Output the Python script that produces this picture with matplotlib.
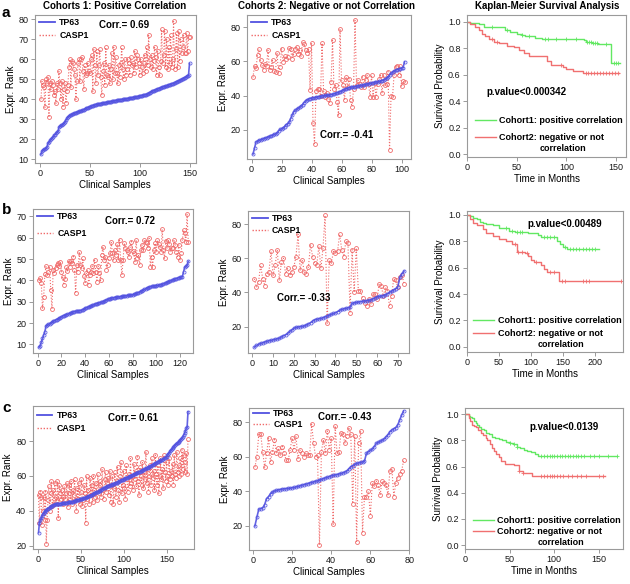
import numpy as np
import matplotlib
matplotlib.use("Agg")
import matplotlib.pyplot as plt
from matplotlib.lines import Line2D

plt.rcParams['font.family'] = ['Liberation Sans', 'DejaVu Sans']

# ---------------- data ----------------
a1_tp63 = [12.5, 14.0, 14.8, 15.0, 15.2, 15.6, 16.3, 18.0, 18.6, 19.5,
           20.0, 20.6, 21.2, 22.0, 22.4, 23.0, 23.5, 24.0, 26.0, 26.6,
           27.0, 27.2, 27.6, 28.1, 28.8, 29.6, 30.5, 31.3, 31.6, 32.0,
           32.2, 32.5, 32.8, 33.0, 33.2, 33.4, 33.6, 33.8, 34.0, 34.1,
           34.3, 34.5, 34.7, 34.9, 35.2, 35.5, 35.7, 35.9, 36.1, 36.3,
           36.5, 36.7, 36.9, 37.1, 37.2, 37.4, 37.5, 37.6, 37.7, 37.8,
           37.9, 38.0, 38.1, 38.2, 38.3, 38.4, 38.5, 38.6, 38.7, 38.8,
           38.9, 39.0, 39.1, 39.2, 39.3, 39.4, 39.5, 39.6, 39.7, 39.8,
           39.9, 39.9, 40.0, 40.0, 40.1, 40.2, 40.3, 40.4, 40.5, 40.6,
           40.7, 40.8, 40.9, 41.0, 41.1, 41.2, 41.3, 41.4, 41.5, 41.7,
           41.8, 41.9, 42.0, 42.2, 42.3, 42.4, 42.5, 42.8, 43.1, 43.4,
           43.7, 44.0, 44.2, 44.4, 44.6, 44.8, 45.0, 45.2, 45.4, 45.6,
           45.8, 46.0, 46.2, 46.4, 46.5, 46.6, 46.7, 47.0, 47.2, 47.4,
           47.6, 47.8, 47.9, 48.0, 48.3, 48.6, 48.9, 49.1, 49.3, 49.5,
           49.7, 50.0, 50.3, 50.6, 50.9, 51.2, 51.5, 51.9, 52.2, 58.0]
a1_casp1 = [40, 49, 47, 46, 36, 50, 48, 51, 31, 48,
            45, 49, 47, 42, 44, 38, 48, 45, 54, 48,
            40, 49, 36, 45, 48, 38, 44, 47, 56, 60,
            46, 59, 58, 55, 52, 40, 49, 58, 60, 49,
            60, 61, 54, 45, 57, 52, 53, 58, 54, 53,
            60, 62, 44, 65, 57, 48, 64, 52, 57, 65,
            51, 42, 54, 58, 47, 66, 52, 51, 57, 48,
            55, 63, 50, 66, 53, 61, 53, 48, 57, 51,
            58, 66, 55, 50, 60, 52, 55, 60, 58, 52,
            61, 57, 58, 53, 64, 56, 62, 60, 58, 52,
            60, 56, 53, 58, 62, 54, 66, 57, 72, 60,
            56, 62, 55, 59, 66, 61, 52, 64, 56, 52,
            59, 75, 58, 62, 74, 56, 70, 55, 66, 58,
            72, 56, 60, 79, 55, 65, 73, 56, 74, 59,
            70, 63, 66, 72, 63, 63, 73, 64, 71, 71]

a2_tp63 = [6.0, 9.4, 13.0, 13.5, 14.0, 14.3, 14.6, 15.0, 15.3, 15.6,
           16.0, 16.3, 16.6, 17.0, 17.4, 17.8, 18.3, 19.5, 20.3, 20.8,
           21.2, 22.0, 23.0, 23.6, 24.5, 26.5, 28.5, 30.5, 31.5, 32.0,
           32.6, 33.3, 34.0, 34.8, 36.0, 37.0, 37.6, 38.0, 38.3, 38.5,
           38.7, 38.9, 39.1, 39.3, 39.4, 39.6, 39.8, 40.0, 40.1, 40.2,
           40.3, 40.4, 40.6, 40.8, 41.0, 41.3, 41.6, 41.9, 42.3, 42.7,
           43.2, 43.6, 44.0, 44.3, 44.6, 44.8, 45.0, 45.2, 45.3, 45.4,
           45.6, 45.8, 46.0, 46.2, 46.4, 46.6, 46.8, 47.0, 47.1, 47.3,
           47.5, 47.7, 47.9, 48.1, 48.3, 48.5, 48.8, 49.1, 49.6, 50.3,
           51.0, 52.0, 53.0, 53.8, 54.3, 54.8, 55.2, 55.5, 55.8, 56.0,
           56.3, 59.8]
a2_casp1 = [50.6, 57.4, 56.0, 63.6, 67.0, 60.6, 57.8, 55.0, 58.7, 57.4,
            66.5, 55.0, 56.8, 60.6, 54.5, 54.0, 65.0, 53.3, 56.8, 67.4,
            59.7, 63.2, 61.6, 62.5, 68.0, 67.4, 61.6, 64.0, 67.4, 68.4,
            64.0, 66.5, 63.0, 71.0, 70.0, 66.8, 65.0, 67.0, 43.3, 70.7,
            24.0, 12.0, 43.0, 43.6, 44.0, 40.0, 70.7, 43.0, 39.4, 41.3,
            38.0, 35.5, 48.0, 72.3, 44.0, 46.0, 36.5, 28.7, 79.0, 49.0,
            46.0, 37.4, 51.0, 45.0, 50.0, 37.4, 33.6, 44.0, 83.9, 46.0,
            49.0, 47.0, 45.0, 51.0, 45.0, 49.0, 52.0, 47.0, 39.4, 52.0,
            39.4, 47.5, 39.4, 47.0, 50.0, 52.0, 41.3, 52.0, 46.0, 47.0,
            54.0, 8.4, 40.0, 39.4, 52.0, 56.8, 57.0, 52.0, 57.0, 45.6,
            48.5, 48.0]

b1_tp63 = [8.8, 9.5, 11.0, 12.8, 14.4, 16.0, 18.6, 19.0, 19.4, 19.8,
           20.1, 20.4, 20.8, 21.1, 21.4, 21.7, 22.0, 22.3, 22.6, 23.0,
           23.3, 23.5, 23.7, 24.0, 24.2, 24.4, 24.6, 24.8, 25.0, 25.3,
           25.4, 25.5, 25.6, 25.7, 25.8, 25.9, 26.0, 26.3, 26.6, 26.9,
           27.2, 27.4, 27.6, 27.8, 28.0, 28.3, 28.5, 28.8, 29.0, 29.2,
           29.4, 29.5, 29.7, 29.8, 30.0, 30.3, 30.6, 30.9, 31.1, 31.3,
           31.5, 31.7, 31.8, 31.9, 32.0, 32.1, 32.2, 32.3, 32.35, 32.4,
           32.5, 32.6, 32.7, 32.8, 32.9, 33.0, 33.05, 33.1, 33.2, 33.3,
           33.5, 33.7, 33.9, 34.1, 34.3, 34.6, 34.9, 35.2, 35.5, 35.8,
           36.1, 36.4, 36.7, 36.9, 37.0, 37.2, 37.3, 37.4, 37.5, 37.6,
           37.7, 37.8, 37.9, 38.0, 38.2, 38.4, 38.6, 38.8, 39.1, 39.4,
           39.6, 39.8, 40.0, 40.2, 40.5, 40.7, 40.9, 41.1, 41.3, 41.4,
           41.6, 41.8, 44.0, 46.2, 46.6, 47.2, 49.0]
b1_casp1 = [40.0, 41.0, 38.7, 27.0, 32.4, 43.0, 46.8, 42.6, 44.0, 46.5,
            35.5, 26.6, 45.0, 43.4, 46.0, 47.3, 48.4, 47.0, 48.8, 44.0,
            41.5, 37.9, 40.5, 46.2, 44.5, 49.3, 46.5, 49.3, 48.0, 51.2,
            45.0, 34.0, 47.3, 44.0, 53.5, 47.3, 45.7, 50.4, 42.0, 39.0,
            43.4, 45.0, 37.9, 42.6, 44.0, 46.8, 43.4, 49.6, 44.0, 39.4,
            46.8, 43.7, 40.0, 52.0, 55.9, 49.6, 51.0, 45.0, 47.3, 50.4,
            52.8, 57.8, 53.0, 49.6, 54.3, 52.0, 57.0, 49.6, 59.0, 49.6,
            42.6, 49.6, 57.5, 55.1, 54.3, 53.5, 51.0, 55.9, 58.2, 54.0,
            52.8, 48.8, 59.0, 50.4, 52.0, 47.3, 54.3, 56.7, 54.3, 59.0,
            58.2, 57.5, 55.0, 59.8, 46.5, 51.2, 46.5, 54.3, 57.5, 53.5,
            59.0, 57.0, 55.9, 53.5, 64.0, 54.3, 50.4, 58.7, 55.1, 59.0,
            57.0, 53.5, 55.1, 55.1, 59.0, 56.7, 53.5, 51.2, 56.7, 49.6,
            53.0, 59.0, 63.7, 62.2, 58.2, 71.0, 58.2]

b2_tp63 = [8.0, 9.0, 9.6, 10.2, 10.6, 11.0, 11.4, 11.8, 12.0, 12.3,
           12.6, 12.9, 13.2, 14.0, 14.7, 15.2, 16.0, 17.2, 18.0, 19.0,
           19.6, 19.8, 20.0, 20.2, 20.4, 21.0, 21.6, 22.3, 23.2, 24.0,
           24.3, 24.6, 24.8, 25.2, 25.7, 26.2, 26.7, 27.2, 27.7, 28.1,
           28.8, 29.5, 30.1, 30.4, 30.7, 31.0, 31.3, 33.6, 33.9, 34.2,
           34.4, 34.6, 34.8, 35.0, 35.2, 35.4, 35.6, 36.2, 36.8, 37.5,
           37.7, 37.9, 38.2, 38.5, 39.2, 40.0, 40.7, 41.4, 42.2, 43.4,
           49.0, 51.0, 52.5]
b2_casp1 = [48, 43, 46, 56, 48, 44, 51, 52, 64, 50,
            56, 65, 47, 58, 60, 51, 54, 50, 52, 55,
            61, 74, 53, 59, 52, 51, 55, 68, 61, 57,
            56, 67, 54, 66, 85, 22, 59, 57, 64, 63,
            64, 74, 65, 61, 70, 69, 28, 65, 40, 66,
            41, 41, 37, 34, 32, 36, 33, 39, 39, 36,
            45, 44, 38, 43, 41, 32, 38, 48, 47, 43,
            49, 50, 45]

c1_tp63 = [27.4, 33.0, 34.5, 35.6, 37.0, 38.0, 38.8, 39.3, 39.9, 40.4,
           40.8, 41.2, 41.6, 42.0, 42.3, 42.6, 42.9, 43.2, 43.5, 43.7,
           43.8, 43.9, 43.9, 44.0, 44.0, 44.1, 44.1, 44.2, 44.2, 44.3,
           44.4, 44.5, 44.6, 44.7, 44.8, 44.9, 45.0, 45.0, 45.1, 45.2,
           45.3, 45.5, 45.7, 45.8, 46.0, 46.1, 46.2, 46.4, 46.5, 46.7,
           46.9, 47.0, 47.2, 47.3, 47.5, 47.7, 47.9, 48.1, 48.3, 48.5,
           48.7, 49.0, 49.2, 49.5, 49.7, 50.0, 50.2, 50.5, 50.7, 51.0,
           51.3, 51.6, 51.9, 52.2, 52.5, 52.8, 53.0, 53.3, 53.5, 53.8,
           54.0, 54.2, 54.4, 54.6, 54.8, 55.0, 55.2, 55.3, 55.5, 55.7,
           55.9, 56.2, 56.5, 56.8, 57.0, 57.2, 57.5, 57.7, 57.9, 58.2,
           58.4, 58.6, 58.9, 59.1, 59.3, 59.5, 59.8, 60.0, 60.2, 60.5,
           60.7, 61.0, 61.2, 61.4, 61.6, 61.8, 62.1, 62.3, 62.5, 62.8,
           63.0, 63.3, 63.5, 63.8, 64.0, 64.3, 64.5, 64.8, 65.0, 65.3,
           65.6, 65.9, 66.2, 66.5, 66.8, 67.0, 67.3, 67.6, 67.8, 68.1,
           68.4, 68.6, 68.9, 69.2, 69.4, 69.7, 70.0, 70.3, 70.6, 71.0,
           71.8, 72.6, 73.4, 74.1, 74.8, 75.4, 76.0, 76.6, 77.2, 77.7,
           78.2, 78.6, 79.0, 79.5, 80.0, 80.6, 81.2, 81.9, 82.6, 83.4,
           84.5, 86.0, 87.3, 88.0, 96.8]
c1_casp1 = [49, 33, 51, 48, 32, 40, 48, 35, 51, 21,
            35, 46, 54, 40, 50, 57, 43, 52, 44, 56,
            48, 46, 57, 36, 55, 50, 47, 52, 44, 48,
            54, 47, 50, 56, 42, 50, 55, 47, 57, 44,
            52, 49, 58, 46, 40, 53, 47, 56, 44, 51,
            58, 43, 46, 55, 50, 33, 60, 47, 52, 44,
            59, 49, 55, 45, 60, 52, 48, 56, 46, 61,
            50, 55, 57, 48, 64, 52, 47, 58, 62, 51,
            56, 59, 49, 63, 45, 55, 60, 44, 53, 62,
            48, 57, 65, 52, 45, 60, 68, 50, 55, 63,
            53, 47, 66, 58, 51, 61, 54, 70, 56, 60,
            52, 67, 58, 63, 54, 71, 57, 49, 65, 60,
            55, 68, 53, 62, 58, 74, 56, 64, 51, 60,
            66, 55, 70, 59, 63, 52, 72, 61, 55, 66,
            50, 60, 70, 58, 64, 53, 72, 62, 57, 68,
            60, 55, 70, 58, 63, 60, 67, 55, 72, 61,
            59, 74, 62, 66, 60, 70, 61, 75, 64, 72,
            62, 68, 73, 61, 81]

c2_tp63 = [20.0, 25.0, 29.7, 30.1, 30.5, 32.4, 35.9, 37.0, 38.8, 39.6,
           40.2, 40.6, 40.9, 41.1, 41.4, 41.5, 41.6, 41.8, 41.9, 42.1,
           42.3, 42.6, 42.9, 43.2, 43.6, 43.9, 44.2, 44.5, 44.9, 45.2,
           45.5, 45.9, 46.2, 46.6, 47.0, 47.4, 47.8, 48.2, 48.6, 49.0,
           49.3, 49.6, 49.8, 50.1, 50.4, 50.8, 51.2, 51.8, 53.0, 54.3,
           55.0, 55.6, 56.2, 56.5, 56.8, 57.1, 57.6, 62.0, 63.0, 63.8,
           64.5, 66.0, 67.8, 68.4, 69.0, 69.6, 70.3, 71.5, 72.8, 74.6,
           75.5, 76.3, 77.0, 78.5, 81.4, 84.3, 86.6]
c2_casp1 = [54, 60, 73, 73, 63, 54, 62, 71, 57, 63,
            70, 62, 65, 61, 66, 62, 58, 58, 64, 71,
            64, 72, 59, 64, 62, 60, 62, 61, 61, 79,
            68, 60, 61, 9, 63, 70, 62, 75, 64, 71,
            21, 78, 62, 63, 74, 73, 68, 72, 77, 73,
            33, 72, 11, 68, 75, 16, 37, 37, 40, 26,
            45, 43, 46, 44, 38, 46, 45, 44, 38, 52,
            53, 37, 45, 48, 50, 52, 58]

# Kaplan-Meier step curves (time, survival) and censor times
a3_g_t = [0, 3, 12, 17, 38, 43, 50, 55, 58, 68, 75, 118, 120, 126, 132, 145, 154]
a3_g_s = [1.0, 0.99, 0.98, 0.96, 0.94, 0.92, 0.91, 0.90, 0.89, 0.88, 0.87, 0.86, 0.85, 0.84, 0.83, 0.69, 0.69]
a3_g_c = [25, 40, 55, 62, 78, 82, 90, 100, 110, 121, 123, 125, 127, 129, 131, 140, 148, 150, 152]
a3_r_t = [0, 3, 8, 12, 15, 18, 22, 27, 32, 40, 47, 52, 57, 62, 80, 85, 97, 100, 107, 117, 153]
a3_r_s = [1.0, 0.98, 0.96, 0.94, 0.91, 0.89, 0.87, 0.85, 0.84, 0.82, 0.81, 0.79, 0.76, 0.74, 0.70, 0.67, 0.66, 0.64, 0.63, 0.61, 0.61]
a3_r_c = [25, 30, 95, 120, 122, 125, 128, 131, 134, 137, 140, 143, 146, 149, 152]

b3_g_t = [0, 5, 10, 15, 20, 25, 30, 40, 50, 65, 75, 95, 110, 115, 140, 145, 150, 155, 205]
b3_g_s = [1.0, 0.99, 0.98, 0.97, 0.95, 0.94, 0.93, 0.92, 0.90, 0.88, 0.87, 0.86, 0.85, 0.83, 0.80, 0.78, 0.76, 0.74, 0.74]
b3_g_c = [60, 70, 78, 82, 86, 120, 125, 130, 135, 152, 160, 165, 170, 175, 180, 185, 190, 195, 200]
b3_r_t = [0, 5, 10, 15, 25, 30, 40, 50, 60, 70, 78, 90, 95, 100, 105, 115, 120, 125, 143, 240]
b3_r_s = [1.0, 0.97, 0.94, 0.92, 0.89, 0.86, 0.84, 0.82, 0.80, 0.78, 0.72, 0.71, 0.69, 0.66, 0.64, 0.62, 0.59, 0.57, 0.50, 0.50]
b3_r_c = [75, 80, 85, 93, 108, 130, 135, 148, 152, 180, 185, 190, 240]

c3_g_t = [0, 4, 6, 8, 10, 12, 14, 16, 18, 21, 24, 27, 30, 34, 38, 42, 46, 50, 54, 58, 62, 66, 70, 74, 78, 82, 170]
c3_g_s = [1.0, 0.99, 0.98, 0.97, 0.95, 0.93, 0.92, 0.90, 0.89, 0.88, 0.86, 0.85, 0.83, 0.82, 0.81, 0.80, 0.79, 0.78, 0.77, 0.75, 0.74, 0.73, 0.72, 0.71, 0.70, 0.68, 0.68]
c3_g_c = [50, 55, 58, 85, 88, 92, 95, 98, 100, 103, 106, 109, 112, 115, 118, 121, 124, 127, 130, 133, 140, 145, 150, 160, 170]
c3_r_t = [0, 4, 6, 8, 10, 12, 15, 18, 20, 23, 25, 28, 30, 32, 35, 38, 40, 45, 55, 60, 65, 75, 157]
c3_r_s = [1.0, 0.97, 0.95, 0.92, 0.91, 0.90, 0.88, 0.86, 0.84, 0.82, 0.80, 0.77, 0.74, 0.72, 0.70, 0.67, 0.64, 0.62, 0.61, 0.57, 0.55, 0.53, 0.53]
c3_r_c = [60, 65, 85, 88, 92, 95, 98, 100, 103, 106, 110, 115, 120, 125, 130, 135, 150, 155]

# ---------------- style ----------------
BLUE = '#5252e0'
RED = '#f06a6a'
KM_GREEN = '#62e862'
KM_RED = '#f07070'
SPINE = '#9a9a9a'
TICK_FS = 6.5
LAB_FS = 7
LEG_FS = 6.3

W, H = 630, 584
fig = plt.figure(figsize=(W / 100, H / 100), dpi=100)


def add_ax(l, t, r, b):
    ax = fig.add_axes([l / W, 1 - b / H, (r - l) / W, (b - t) / H])
    ax._pxw = r - l
    ax._pxh = b - t
    return ax


def style(ax):
    for s in ax.spines.values():
        s.set_color(SPINE)
        s.set_linewidth(0.8)
    ax.tick_params(direction='out', length=3, width=0.7, color=SPINE,
                   labelsize=TICK_FS, labelcolor='#1a1a1a', pad=1.5)


def scatter_panel(ax, tp, cs, xlim, ylim, xt, yt, corr, cpos, leg_top, leg_sp):
    x1 = np.arange(1, len(tp) + 1)
    x2 = np.arange(1, len(cs) + 1)
    ax.plot(x2, cs, color=RED, ls=':', lw=0.8, marker='o', ms=2.8,
            mfc='none', mec=RED, mew=0.6, zorder=2)
    ax.plot(x1, tp, color=BLUE, ls='-', lw=1.2, marker='o', ms=2.2,
            mfc='none', mec=BLUE, mew=0.6, alpha=0.9, zorder=3)
    ax.set_xlim(*xlim)
    ax.set_ylim(*ylim)
    ax.set_xticks(xt)
    ax.set_yticks(yt)
    style(ax)
    ax.set_xlabel('Clinical Samples', fontsize=LAB_FS, labelpad=1)
    ax.set_ylabel('Expr. Rank', fontsize=LAB_FS, labelpad=2)
    handles = [Line2D([], [], color=BLUE, lw=1.3),
               Line2D([], [], color=RED, lw=1.0, ls=(0, (1.0, 1.2)))]
    fpx = LEG_FS * 100 / 72
    anchor = (4 / ax._pxw, 1 - (leg_top - fpx / 2) / ax._pxh)
    sp = (leg_sp - fpx) / fpx
    ax.legend(handles, ['TP63', 'CASP1'], loc='upper left',
              bbox_to_anchor=anchor, frameon=False,
              prop={'weight': 'bold', 'size': LEG_FS}, handlelength=1.8,
              handletextpad=0.5, labelspacing=sp, borderaxespad=0.0,
              borderpad=0.0)
    ax.text(cpos[0], cpos[1], corr, transform=ax.transAxes, fontsize=7,
            fontweight='bold', ha='left', va='center')


def km_step_value(t, s, c):
    idx = np.searchsorted(np.asarray(t), np.asarray(c), side='right') - 1
    return np.asarray(s)[idx]


def km_panel(ax, gt, gs, gc, rt, rs, rc, xlim, ylim, xt, ptext, ppos,
             legpos, legsp):
    ax.step(gt, gs, where='post', color=KM_GREEN, lw=1.0)
    ax.plot(gc, km_step_value(gt, gs, gc), ls='none', marker='+', ms=3,
            mew=0.6, color=KM_GREEN)
    ax.step(rt, rs, where='post', color=KM_RED, lw=1.0)
    ax.plot(rc, km_step_value(rt, rs, rc), ls='none', marker='+', ms=3,
            mew=0.6, color=KM_RED)
    ax.set_xlim(*xlim)
    ax.set_ylim(*ylim)
    ax.set_xticks(xt)
    ax.set_yticks([0.0, 0.2, 0.4, 0.6, 0.8, 1.0])
    ax.set_yticklabels(['0.0', '0.2', '0.4', '0.6', '0.8', '1.0'])
    style(ax)
    ax.set_xlabel('Time in Months', fontsize=LAB_FS, labelpad=1)
    ax.set_ylabel('Surivival Probability', fontsize=LAB_FS, labelpad=2)
    ax.text(ppos[0], ppos[1], ptext, transform=ax.transAxes, fontsize=7,
            fontweight='bold', ha='left', va='center')
    handles = [Line2D([], [], color=KM_GREEN, lw=1.0),
               Line2D([], [], color=KM_RED, lw=1.0)]
    leg = ax.legend(handles, ['Cohort1: positive correlation',
                              'Cohort2: negative or not'],
                    loc='center left', bbox_to_anchor=legpos,
                    frameon=False, prop={'weight': 'bold', 'size': 6.5},
                    handlelength=2.3, handletextpad=0.4, labelspacing=legsp,
                    borderaxespad=0.0, borderpad=0.0)
    ax.annotate('correlation', xy=(0.383, 0), xycoords=leg.get_texts()[1],
                xytext=(0, -1.5), textcoords='offset points', fontsize=6.5,
                fontweight='bold', ha='left', va='top', zorder=10)


# ---------------- panels ----------------
ax = add_ax(35, 15, 195.5, 163)
scatter_panel(ax, a1_tp63, a1_casp1, (-5, 156), (8.2, 82.2), [0, 50, 100, 150],
              [10, 20, 30, 40, 50, 60, 70, 80], 'Corr.= 0.69', (0.40, 0.93),
              7.7, 12.3)
ax = add_ax(247, 15, 411, 159)
scatter_panel(ax, a2_tp63, a2_casp1, (-3, 106.3), (3.1, 87.0),
              [0, 20, 40, 60, 80, 100], [20, 40, 60, 80], 'Corr.= -0.41',
              (0.445, 0.167), 7.7, 12.3)
ax = add_ax(467, 15, 626, 157)
km_panel(ax, a3_g_t, a3_g_s, a3_g_c, a3_r_t, a3_r_s, a3_r_c, (0, 160),
         (-0.02, 1.05), [0, 50, 100, 150], 'p.value<0.000342', (0.125, 0.458),
         (0.05, 0.197), 0.85)

ax = add_ax(33, 209, 193, 353)
scatter_panel(ax, b1_tp63, b1_casp1, (-4, 131), (6.0, 73.5),
              [0, 20, 40, 60, 80, 100, 120], [10, 20, 30, 40, 50, 60, 70],
              'Corr.= 0.72', (0.453, 0.92), 7.7, 16.0)
ax = add_ax(248, 211, 409.5, 353)
scatter_panel(ax, b2_tp63, b2_casp1, (-2.07, 75.6), (4.6, 87.6),
              [0, 10, 20, 30, 40, 50, 60, 70], [20, 40, 60, 80], 'Corr.= -0.33',
              (0.18, 0.387), 7.3, 12.3)
ax = add_ax(467, 211, 623, 352)
km_panel(ax, b3_g_t, b3_g_s, b3_g_c, b3_r_t, b3_r_s, b3_r_c, (0, 243),
         (-0.04, 1.03), [0, 50, 100, 150, 200], 'p.value<0.00489',
         (0.385, 0.908), (0.04, 0.178), 0.4)

ax = add_ax(32.5, 406, 194, 549)
scatter_panel(ax, c1_tp63, c1_casp1, (-6, 182), (18.1, 100.1),
              [0, 50, 100, 150], [20, 40, 60, 80], 'Corr.= 0.61', (0.466, 0.916),
              9.7, 12.7)
ax = add_ax(249, 408, 409.5, 550)
scatter_panel(ax, c2_tp63, c2_casp1, (-2, 80), (6.1, 88.3),
              [0, 20, 40, 60, 80], [20, 40, 60, 80], 'Corr.= -0.43',
              (0.427, 0.937), 5.5, 10.7)
ax = add_ax(465, 408, 623, 549)
km_panel(ax, c3_g_t, c3_g_s, c3_g_c, c3_r_t, c3_r_s, c3_r_c, (0, 177),
         (-0.03, 1.048), [0, 50, 100, 150], 'p.value<0.0139', (0.405, 0.865),
         (0.05, 0.162), 0.25)

# titles and panel letters
fig.text(115 / W, 1 - 9 / H, 'Cohorts 1: Positive Correlation', ha='center',
         va='baseline', fontsize=7, fontweight='bold')
fig.text(327 / W, 1 - 9 / H, 'Cohorts 2: Negative or not Correlation',
         ha='center', va='baseline', fontsize=7, fontweight='bold')
fig.text(547 / W, 1 - 9 / H, 'Kaplan-Meier Survival Analysis', ha='center',
         va='baseline', fontsize=7, fontweight='bold')
fig.text(2 / W, 1 - 17 / H, 'a', fontsize=11, fontweight='bold', va='baseline')
fig.text(2 / W, 1 - 214 / H, 'b', fontsize=11, fontweight='bold', va='baseline')
fig.text(2 / W, 1 - 412 / H, 'c', fontsize=11, fontweight='bold', va='baseline')

fig.savefig('out.png', dpi=100)
